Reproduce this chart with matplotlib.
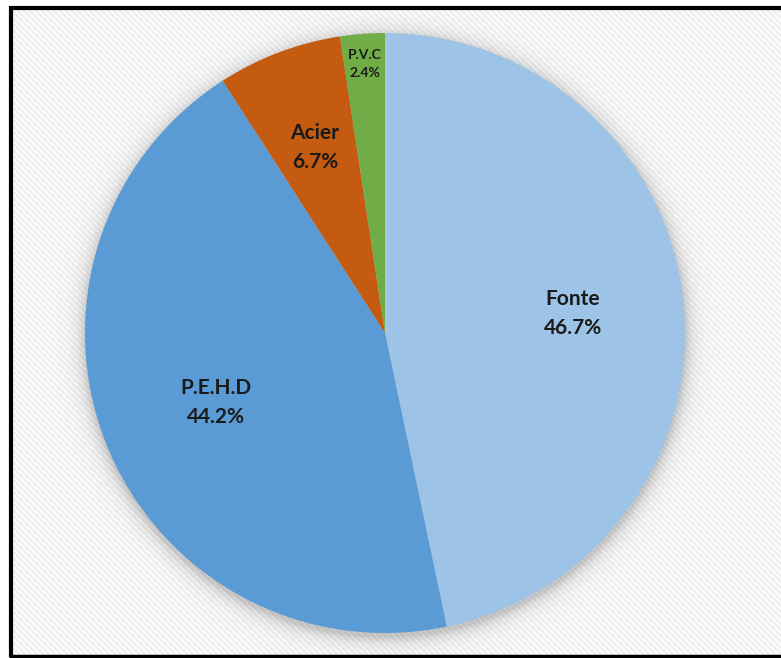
import matplotlib.pyplot as plt
import numpy as np

# Répartition des matériaux du réseau
materiaux = ["Fonte", "P.E.H.D", "Acier", "P.V.C"]
parts = [46.7, 44.2, 6.7, 2.4]
couleurs = ["#9DC3E6", "#5B9BD5", "#C55A11", "#70AD47"]

W, H = 781, 658
cx, cy, R = 385, 333, 300

fig = plt.figure(figsize=(W / 100, H / 100), dpi=100)

# fond hachuré + ombre douce autour du disque
yy, xx = np.mgrid[0:H, 0:W]
fond = np.where(((xx - yy) % 6) < 3, 0.935, 0.985)
d = np.hypot(xx - cx, yy - (cy + 3))
ombre = np.where(d > R, 0.2 * np.exp(-(d - R) / 8.0), 0.2)
fond = fond * (1 - ombre)
fond[:7, :] = 1.0
fond[:, :10] = 1.0
fond[656:, :] = 1.0
bg = fig.add_axes([0, 0, 1, 1])
bg.imshow(fond, cmap="gray", vmin=0, vmax=1, extent=(0, W, H, 0), interpolation="bilinear")
bg.plot([10.5, W + 5], [7.5, 7.5], color="black", lw=3, solid_capstyle="butt")
bg.plot([10.5, 10.5], [6, 656.5], color="black", lw=3, solid_capstyle="butt")
bg.plot([9, W + 5], [655.5, 655.5], color="black", lw=2.5, solid_capstyle="butt")
bg.set_xlim(0, W)
bg.set_ylim(H, 0)
bg.axis("off")

ax = fig.add_axes([(cx - R) / W, (H - cy - R) / H, 2 * R / W, 2 * R / H])
wedges, _ = ax.pie(parts, colors=couleurs, startangle=90, counterclock=False,
                   radius=1, wedgeprops=dict(linewidth=0))
ax.set_xlim(-1, 1)
ax.set_ylim(-1, 1)
ax.set_aspect("equal")
ax.axis("off")

distances = [0.63, 0.61, 0.66, 0.9]
tailles = [15, 15, 15, 10]
for w, nom, val, r, fs in zip(wedges, materiaux, parts, distances, tailles):
    a = np.deg2rad((w.theta1 + w.theta2) / 2)
    ax.text(r * np.cos(a), r * np.sin(a), f"{nom}\n{val:.1f}%", ha="center", va="center",
            fontsize=fs, family="Lato", fontweight="bold", color="#1a1a1a", linespacing=1.55)

fig.savefig("out.png", dpi=100)
